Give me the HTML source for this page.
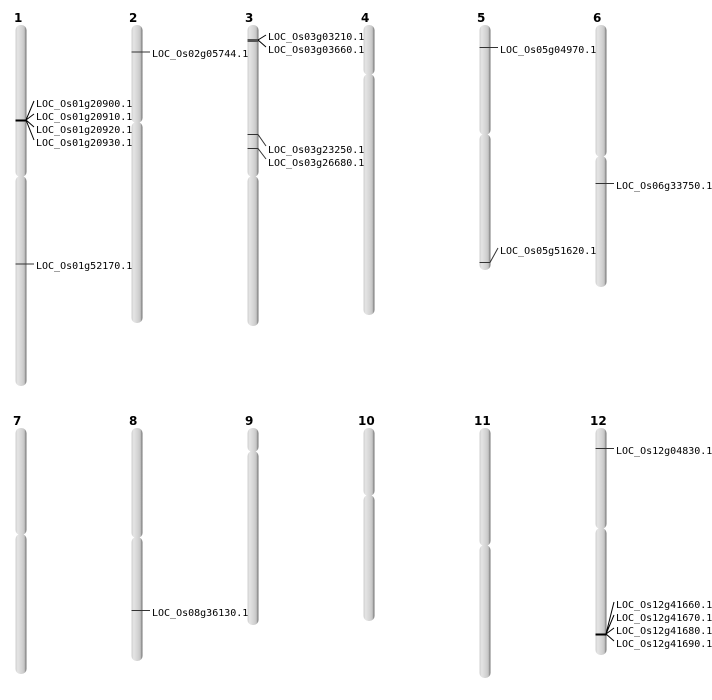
<!DOCTYPE html>
<html><head><meta charset="utf-8"><style>
html,body{margin:0;padding:0;background:#fff;width:712px;height:700px;overflow:hidden}
svg{display:block}
.n{font-family:"DejaVu Sans","Liberation Sans",sans-serif;font-weight:bold;font-size:12px;fill:#000}
.l{font-family:"DejaVu Sans Mono","Liberation Mono",monospace;font-size:10px;fill:#000}
.c{fill:url(#g);}
</style></head><body>
<svg width="712" height="700" viewBox="0 0 712 700" xmlns="http://www.w3.org/2000/svg">
<defs>
<linearGradient id="g" x1="0" y1="0" x2="1" y2="0">
<stop offset="0" stop-color="#cfcfcf"/>
<stop offset="0.2" stop-color="#e4e4e4"/>
<stop offset="0.6" stop-color="#d3d3d3"/>
<stop offset="0.8" stop-color="#c4c4c4"/>
<stop offset="1" stop-color="#6e6e6e"/>
</linearGradient>
</defs>
<!-- numbers -->
<text class="n" x="14" y="22">1</text>
<text class="n" x="129" y="22">2</text>
<text class="n" x="245" y="22">3</text>
<text class="n" x="361" y="22">4</text>
<text class="n" x="477" y="22">5</text>
<text class="n" x="593" y="22">6</text>
<text class="n" x="13" y="425">7</text>
<text class="n" x="129" y="425">8</text>
<text class="n" x="245" y="425">9</text>
<text class="n" x="358" y="425">10</text>
<text class="n" x="474" y="425">11</text>
<text class="n" x="590" y="425">12</text>
<!-- row 1 chromosomes -->
<g>
<rect class="c" x="15.5" y="25" width="11" height="152" rx="5"/>
<rect class="c" x="15.5" y="176" width="11" height="210" rx="5"/>
<rect class="c" x="131.5" y="25" width="11" height="98" rx="5"/>
<rect class="c" x="131.5" y="122" width="11" height="201" rx="5"/>
<rect class="c" x="247.5" y="25" width="11" height="152" rx="5"/>
<rect class="c" x="247.5" y="176" width="11" height="150" rx="5"/>
<rect class="c" x="363.5" y="25" width="11" height="50" rx="5"/>
<rect class="c" x="363.5" y="74" width="11" height="241" rx="5"/>
<rect class="c" x="479.5" y="25" width="11" height="110" rx="5"/>
<rect class="c" x="479.5" y="134" width="11" height="136" rx="5"/>
<rect class="c" x="595.5" y="25" width="11" height="132" rx="5"/>
<rect class="c" x="595.5" y="156" width="11" height="131" rx="5"/>
</g>
<!-- row 2 chromosomes -->
<g>
<rect class="c" x="15.5" y="428" width="11" height="107" rx="5"/>
<rect class="c" x="15.5" y="534" width="11" height="140" rx="5"/>
<rect class="c" x="131.5" y="428" width="11" height="110" rx="5"/>
<rect class="c" x="131.5" y="537" width="11" height="124" rx="5"/>
<rect class="c" x="247.5" y="428" width="11" height="24" rx="5"/>
<rect class="c" x="247.5" y="451" width="11" height="174" rx="5"/>
<rect class="c" x="363.5" y="428" width="11" height="68" rx="5"/>
<rect class="c" x="363.5" y="495" width="11" height="126" rx="5"/>
<rect class="c" x="479.5" y="428" width="11" height="118" rx="5"/>
<rect class="c" x="479.5" y="545" width="11" height="133" rx="5"/>
<rect class="c" x="595.5" y="428" width="11" height="101" rx="5"/>
<rect class="c" x="595.5" y="528" width="11" height="127" rx="5"/>
</g>
<!-- markers & connectors -->
<g stroke="#000" fill="none" stroke-width="1">
<line x1="15.5" y1="120.5" x2="26.5" y2="120.5" stroke-width="2"/>
<path d="M26 120 L34 101 M26 120 L34 114 M26 120 L34 127 M26 120 L34 140"/>
<line x1="15.5" y1="264" x2="34" y2="264" stroke="#333"/>
<line x1="131.5" y1="52" x2="150" y2="52" stroke="#333"/>
<line x1="247.5" y1="40.5" x2="258.5" y2="40.5" stroke="#555" stroke-width="3"/>
<path d="M258 40 L266 35 M258 40 L266 47"/>
<path d="M247.5 134.5 L258 134.5 L266 146 M247.5 148.5 L258 148.5 L266 159" stroke="#333"/>
<line x1="479.5" y1="47.5" x2="498" y2="47.5" stroke="#333"/>
<path d="M479.5 262.5 L490 262.5 L498 248" stroke="#333"/>
<line x1="595.5" y1="183.5" x2="614" y2="183.5" stroke="#333"/>
<line x1="131.5" y1="610.5" x2="150" y2="610.5" stroke="#333"/>
<line x1="595.5" y1="448.5" x2="614" y2="448.5" stroke="#333"/>
<line x1="595.5" y1="634.5" x2="606.5" y2="634.5" stroke-width="2"/>
<path d="M606 634 L614 602 M606 634 L614 615 M606 634 L614 628 M606 634 L614 641"/>
</g>
<!-- labels -->
<g class="l">
<text class="l" x="36" y="107">LOC_Os01g20900.1</text>
<text class="l" x="36" y="120">LOC_Os01g20910.1</text>
<text class="l" x="36" y="133">LOC_Os01g20920.1</text>
<text class="l" x="36" y="146">LOC_Os01g20930.1</text>
<text class="l" x="36" y="269">LOC_Os01g52170.1</text>
<text class="l" x="152" y="57">LOC_Os02g05744.1</text>
<text class="l" x="268" y="40">LOC_Os03g03210.1</text>
<text class="l" x="268" y="53">LOC_Os03g03660.1</text>
<text class="l" x="268" y="153">LOC_Os03g23250.1</text>
<text class="l" x="268" y="166">LOC_Os03g26680.1</text>
<text class="l" x="500" y="53">LOC_Os05g04970.1</text>
<text class="l" x="500" y="254">LOC_Os05g51620.1</text>
<text class="l" x="616" y="189">LOC_Os06g33750.1</text>
<text class="l" x="152" y="616">LOC_Os08g36130.1</text>
<text class="l" x="616" y="454">LOC_Os12g04830.1</text>
<text class="l" x="616" y="608">LOC_Os12g41660.1</text>
<text class="l" x="616" y="621">LOC_Os12g41670.1</text>
<text class="l" x="616" y="634">LOC_Os12g41680.1</text>
<text class="l" x="616" y="647">LOC_Os12g41690.1</text>
</g>
</svg>
</body></html>
